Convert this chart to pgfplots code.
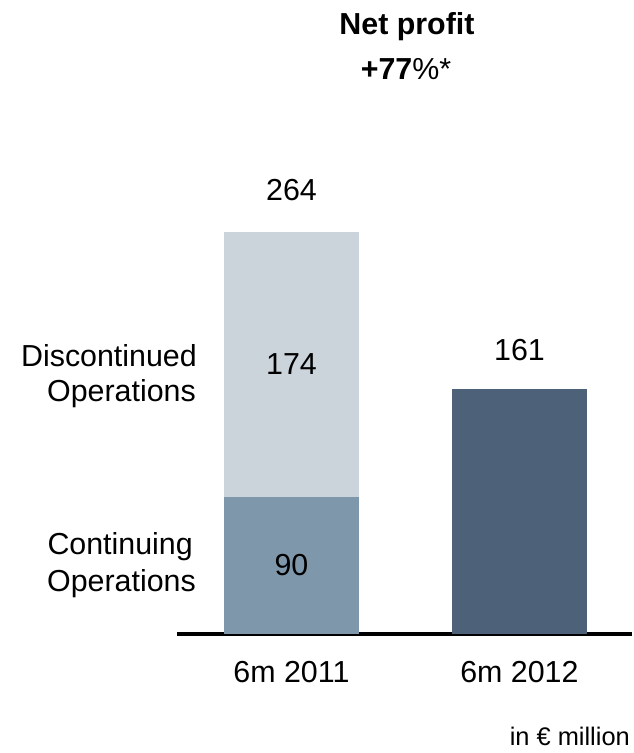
\documentclass[border=0pt]{standalone}
\usepackage{pgfplots}
\pgfplotsset{compat=1.18}
\usepackage{fontspec}
\setmainfont{Liberation Sans}

\definecolor{discont}{HTML}{CBD3DB}
\definecolor{cont}{HTML}{7F97AB}
\definecolor{yr12}{HTML}{4D6279}

\begin{document}
\begin{tikzpicture}[every node/.style={font=\fontsize{30.5}{36}\selectfont, inner sep=0pt}]
  % invisible frame with the reference's proportions
  \path (-177bp,-119bp) rectangle (455bp,634bp);
  \begin{axis}[
    at={(0,0)}, anchor=south west,
    scale only axis,
    width=455bp, height=634bp,
    xmin=-0.502, xmax=1.4936,
    ymin=0, ymax=416.3,
    ybar stacked,
    bar width=135bp,
    axis x line*=bottom,
    axis y line=none,
    x axis line style={line width=3bp, black, -},
    xtick=\empty, ytick=\empty,
    clip=false]

    % Continuing Operations
    \addplot[fill=cont, draw=none] coordinates {(0,90) (1,0)};
    % Discontinued Operations
    \addplot[fill=discont, draw=none] coordinates {(0,174) (1,0)};
    % 6m 2012
    \addplot[fill=yr12, draw=none] coordinates {(0,0) (1,161)};

    \coordinate (c90) at (axis cs:0,45);
    \coordinate (c174) at (axis cs:0,177);
    \coordinate (t264) at (axis cs:0,264);
    \coordinate (t161) at (axis cs:1,161);
    \coordinate (x0) at (axis cs:0,0);
    \coordinate (x1) at (axis cs:1,0);
  \end{axis}

  % value labels
  \node[anchor=base, yshift=31bp] at (t264) {264};
  \node[anchor=center] at (c174) {174};
  \node[anchor=center] at (c90) {90};
  \node[anchor=base, yshift=28bp] at (t161) {161};

  % category labels
  \node[anchor=base, yshift=-48bp] at (x0) {6m 2011};
  \node[anchor=base, yshift=-48bp] at (x1) {6m 2012};

  % segment names on the left
  \node[anchor=base east] at (20bp,267bp) {Discontinued};
  \node[anchor=base east] at (19bp,232bp) {Operations};
  \node[anchor=base east] at (16bp,79bp) {Continuing};
  \node[anchor=base east] at (19bp,42bp) {Operations};

  % title
  \node[anchor=base] at (230bp,599bp) {\bfseries Net profit};
  \node[anchor=base] at (229bp,554bp) {{\bfseries +77}\%*};

  % unit note
  \node[anchor=base east, font=\fontsize{25.5}{30}\selectfont] at (453bp,-111bp) {in € million};
\end{tikzpicture}
\end{document}
